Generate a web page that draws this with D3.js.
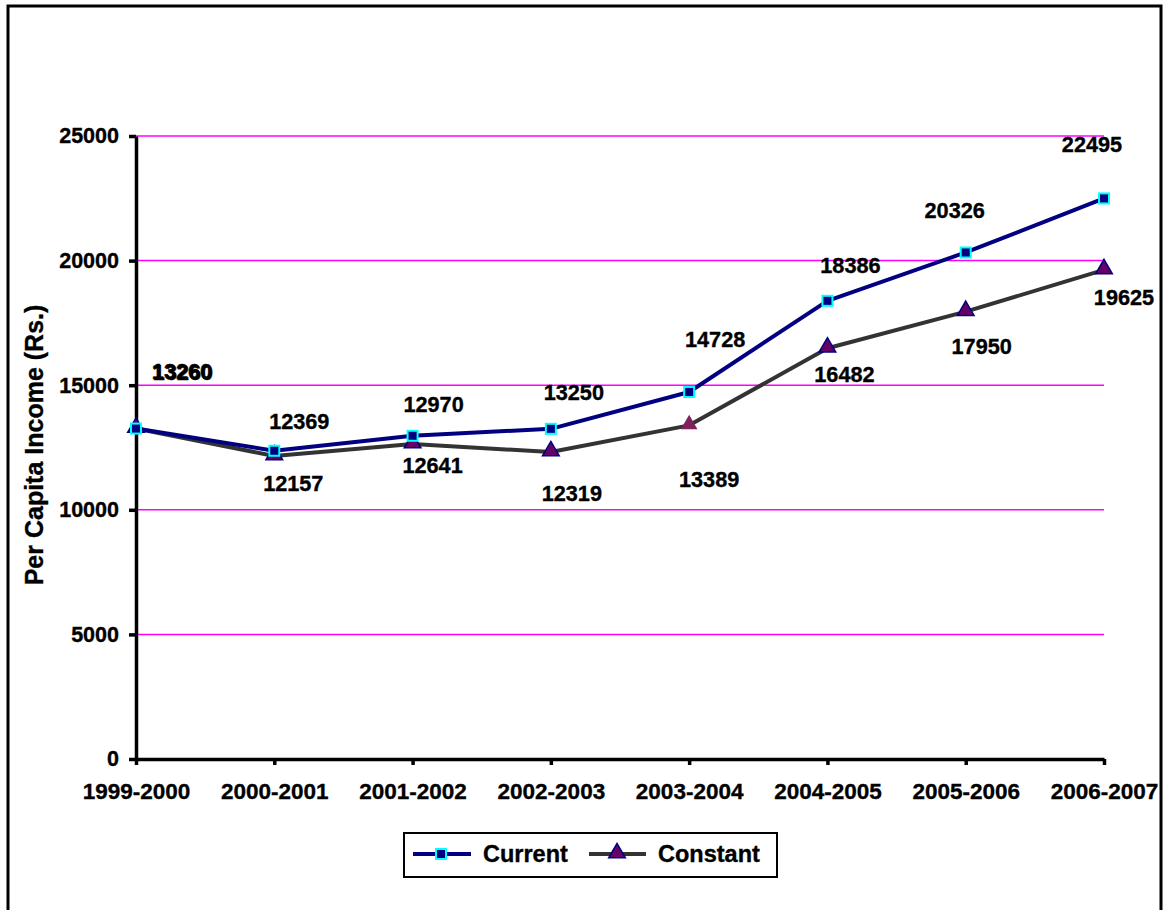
<!DOCTYPE html>
<html>
<head>
<meta charset="utf-8">
<script src="https://cdn.jsdelivr.net/npm/d3@7"></script>
<style>
  html, body { margin: 0; padding: 0; background: #fff; }
  svg { display: block; font-family: "Liberation Sans", Arial, sans-serif; font-weight: bold; }
  svg text { stroke: #000; stroke-width: 0.35px; }
</style>
</head>
<body>
<svg id="chart" width="1164" height="910"></svg>
<script>
// ---- data ----
const categories = ["1999-2000", "2000-2001", "2001-2002", "2002-2003", "2003-2004", "2004-2005", "2005-2006", "2006-2007"];
const currentValues = [13260, 12369, 12970, 13250, 14728, 18386, 20326, 22495];
const constantValues = [13260, 12157, 12641, 12319, 13389, 16482, 17950, 19625];
const yTicks = [0, 5000, 10000, 15000, 20000, 25000];
const seriesNames = ["Current", "Constant"];
const yTitle = "Per Capita Income (Rs.)";

// ---- layout (pixel offsets of data labels relative to their points) ----
const currentLabelOffsets = [[46, -57], [25, -29], [21, -31], [23, -36], [26, -53], [23, -35], [-11, -42], [-12, -54]];
const constantLabelOffsets = [[47, -56], [19, 27], [20, 21], [21, 41], [20, 54], [17, 26], [16, 35], [20, 27]];

const svg = d3.select("#chart");
const ff = "Liberation Sans, Arial, sans-serif";

// outer border
svg.append("rect").attr("x", 8).attr("y", 6).attr("width", 1153).attr("height", 920)
  .attr("fill", "#fff").attr("stroke", "#000").attr("stroke-width", 3);

const x = d3.scalePoint().domain(categories).range([136, 1104]);
const y = d3.scaleLinear().domain([0, 25000]).range([759, 136]);

// gridlines
svg.append("g").selectAll("line").data(yTicks.filter(d => d > 0)).join("line")
  .attr("x1", 136).attr("x2", 1104)
  .attr("y1", d => y(d)).attr("y2", d => y(d))
  .attr("stroke", "#FF00FF").attr("stroke-width", 1.5);

// y axis
const yAxis = svg.append("g").attr("transform", "translate(136,0)")
  .call(d3.axisLeft(y).tickValues(yTicks).tickSize(7).tickSizeOuter(0).tickPadding(10).tickFormat(d3.format("d")));
yAxis.select(".domain").attr("stroke", "#000").attr("stroke-width", 3.5);
yAxis.selectAll(".tick line").attr("stroke", "#000").attr("stroke-width", 3.5);
yAxis.selectAll(".tick text").attr("font-size", 21.5).attr("fill", "#000")
  .attr("font-family", ff).attr("font-weight", "bold");

// x axis
const xAxis = svg.append("g").attr("transform", "translate(0,759)")
  .call(d3.axisBottom(x).tickSize(6).tickSizeOuter(0).tickPadding(18));
xAxis.select(".domain").attr("stroke", "#000").attr("stroke-width", 3.5);
xAxis.selectAll(".tick line").attr("stroke", "#000").attr("stroke-width", 3.5);
xAxis.selectAll(".tick text").attr("font-size", 22.5).attr("fill", "#000")
  .attr("font-family", ff).attr("font-weight", "bold");

// y axis title
svg.append("text")
  .attr("transform", "translate(34,445) rotate(-90)")
  .attr("text-anchor", "middle")
  .attr("dy", "0.35em")
  .attr("font-size", 25)
  .attr("fill", "#000")
  .text(yTitle);

// lines
const line = d3.line().x((d, i) => x(categories[i])).y(d => y(d));
svg.append("path").datum(constantValues).attr("d", line)
  .attr("fill", "none").attr("stroke", "#333333").attr("stroke-width", 4).attr("stroke-linejoin", "round");
svg.append("path").datum(currentValues).attr("d", line)
  .attr("fill", "none").attr("stroke", "#000080").attr("stroke-width", 4).attr("stroke-linejoin", "round");

// markers
const tri = d3.symbol().type(d3.symbolTriangle).size(120);
function drawSquare(g, cx, cy) {
  g.append("rect").attr("x", cx - 5).attr("y", cy - 5).attr("width", 10).attr("height", 10)
    .attr("fill", "#000080").attr("stroke", "#00FFFF").attr("stroke-width", 2);
}
function drawTriangle(g, cx, cy, special) {
  g.append("path").attr("d", tri).attr("transform", `translate(${cx},${cy - 1})`)
    .attr("fill", special ? "#80205F" : "#660066")
    .attr("stroke", special ? "none" : "#000080").attr("stroke-width", 1.5);
}
const mg = svg.append("g");
constantValues.forEach((v, i) => drawTriangle(mg, x(categories[i]), y(v), i === 4));
currentValues.forEach((v, i) => drawSquare(mg, x(categories[i]), y(v)));

// data labels
const lg = svg.append("g").attr("font-size", 21.7).attr("fill", "#000").attr("text-anchor", "middle");
constantValues.forEach((v, i) => {
  lg.append("text").attr("x", x(categories[i]) + constantLabelOffsets[i][0])
    .attr("y", y(v) + constantLabelOffsets[i][1]).attr("dy", "0.35em").text(v);
});
currentValues.forEach((v, i) => {
  lg.append("text").attr("x", x(categories[i]) + currentLabelOffsets[i][0])
    .attr("y", y(v) + currentLabelOffsets[i][1]).attr("dy", "0.35em").text(v);
});

// legend
const leg = svg.append("g");
leg.append("rect").attr("x", 404).attr("y", 833).attr("width", 373).attr("height", 44)
  .attr("fill", "#fff").attr("stroke", "#000").attr("stroke-width", 2);
leg.append("line").attr("x1", 413).attr("x2", 471).attr("y1", 854).attr("y2", 854)
  .attr("stroke", "#000080").attr("stroke-width", 4);
drawSquare(leg, 441, 854);
leg.append("text").attr("x", 483).attr("y", 854).attr("dy", "0.35em").attr("font-size", 23.5).text(seriesNames[0]);
leg.append("line").attr("x1", 589).attr("x2", 646).attr("y1", 854).attr("y2", 854)
  .attr("stroke", "#333333").attr("stroke-width", 4);
drawTriangle(leg, 617, 854, false);
leg.append("text").attr("x", 658).attr("y", 854).attr("dy", "0.35em").attr("font-size", 23.5).text(seriesNames[1]);
</script>
</body>
</html>
